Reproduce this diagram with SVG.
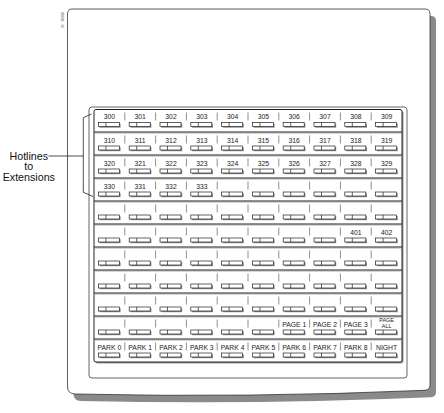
<svg xmlns="http://www.w3.org/2000/svg" xmlns:xlink="http://www.w3.org/1999/xlink" width="444" height="413" viewBox="0 0 444 413">
<style>
.lbl{font-family:"Liberation Sans",Arial,sans-serif;font-size:6.8px;text-anchor:middle;fill:#222}
.sm{font-family:"Liberation Sans",Arial,sans-serif;font-size:5.4px;text-anchor:middle;fill:#222}
.big{font-family:"Liberation Sans",Arial,sans-serif;font-size:10.7px;text-anchor:middle;fill:#111}
.sep{stroke:#444;stroke-width:0.6;fill:none}
.row{stroke:#222;stroke-width:1.1}
.rowsh{stroke:#aaa;stroke-width:0.8}
.conn{stroke:#222;stroke-width:0.8;fill:none}
</style>
<defs>
<g id="btn">
<rect x="1.2" y="1.2" width="21" height="4" fill="#8c8c8c"/>
<rect x="0" y="0" width="21" height="4" fill="#fff" stroke="#222" stroke-width="0.7"/>
<line x1="7.5" y1="0" x2="7.5" y2="4" stroke="#222" stroke-width="0.7"/>
</g>
<path id="dev" d="M 72 9 L 425 9 Q 430 9 430 14 L 430 385 Q 430 390 425 390.3 Q 250 398 75 394 Q 67.5 393.5 67.5 387 L 67.5 14 Q 67.5 9 72 9 Z"/>
</defs>
<g id="device">
<use xlink:href="#dev" href="#dev" transform="translate(6,7)" fill="#8a8a8a"/>
<use xlink:href="#dev" href="#dev" fill="#fff" stroke="#333" stroke-width="0.8"/>
<text transform="translate(61,12) rotate(90)" font-family="Liberation Sans, Arial, sans-serif" font-size="3.4" fill="#555">80008 - 96</text>
</g>
<g id="panel">
<rect x="89" y="107" width="318" height="271" rx="3" fill="#fff" stroke="#555" stroke-width="0.9"/>
<rect x="95.5" y="111" width="308" height="252.5" rx="2" fill="#999"/>
<rect x="94" y="109.5" width="308" height="252.5" rx="2" fill="#fff" stroke="#222" stroke-width="1"/>
<g id="rowlines">
<path class="rowsh" d="M95 133.1H402M95 156.1H402M95 179.1H402M95 202.1H402M95 225.1H402M95 248.1H402M95 271.1H402M95 294.1H402M95 317.1H402M95 340.1H402"/>
<path class="row" d="M94 132H402M94 155H402M94 178H402M94 201H402M94 224H402M94 247H402M94 270H402M94 293H402M94 316H402M94 339H402"/>
</g>
<g id="separators" class="sep">
<path d="M124.8 112.5v8M155.6 112.5v8M186.4 112.5v8M217.2 112.5v8M248 112.5v8M278.8 112.5v8M309.6 112.5v8M340.4 112.5v8M371.2 112.5v8"/>
<path d="M124.8 135.5v8M155.6 135.5v8M186.4 135.5v8M217.2 135.5v8M248 135.5v8M278.8 135.5v8M309.6 135.5v8M340.4 135.5v8M371.2 135.5v8"/>
<path d="M124.8 158.5v8M155.6 158.5v8M186.4 158.5v8M217.2 158.5v8M248 158.5v8M278.8 158.5v8M309.6 158.5v8M340.4 158.5v8M371.2 158.5v8"/>
<path d="M124.8 181.5v8M155.6 181.5v8M186.4 181.5v8M217.2 181.5v8M248 181.5v8M278.8 181.5v8M309.6 181.5v8M340.4 181.5v8M371.2 181.5v8"/>
<path d="M124.8 204.5v8M155.6 204.5v8M186.4 204.5v8M217.2 204.5v8M248 204.5v8M278.8 204.5v8M309.6 204.5v8M340.4 204.5v8M371.2 204.5v8"/>
<path d="M124.8 227.5v8M155.6 227.5v8M186.4 227.5v8M217.2 227.5v8M248 227.5v8M278.8 227.5v8M309.6 227.5v8M340.4 227.5v8M371.2 227.5v8"/>
<path d="M124.8 250.5v8M155.6 250.5v8M186.4 250.5v8M217.2 250.5v8M248 250.5v8M278.8 250.5v8M309.6 250.5v8M340.4 250.5v8M371.2 250.5v8"/>
<path d="M124.8 273.5v8M155.6 273.5v8M186.4 273.5v8M217.2 273.5v8M248 273.5v8M278.8 273.5v8M309.6 273.5v8M340.4 273.5v8M371.2 273.5v8"/>
<path d="M124.8 296.5v8M155.6 296.5v8M186.4 296.5v8M217.2 296.5v8M248 296.5v8M278.8 296.5v8M309.6 296.5v8M340.4 296.5v8M371.2 296.5v8"/>
<path d="M124.8 319.5v8M155.6 319.5v8M186.4 319.5v8M217.2 319.5v8M248 319.5v8M278.8 319.5v8M309.6 319.5v8M340.4 319.5v8M371.2 319.5v8"/>
<path d="M124.8 342.5v8M155.6 342.5v8M186.4 342.5v8M217.2 342.5v8M248 342.5v8M278.8 342.5v8M309.6 342.5v8M340.4 342.5v8M371.2 342.5v8"/>
</g>
</g>
<g id="keys">
<!-- row 0 -->
<g id="k300"><text class="lbl" x="109.4" y="119">300</text><use href="#btn" x="98.4" y="122.5"/></g>
<g id="k301"><text class="lbl" x="140.2" y="119">301</text><use href="#btn" x="129.2" y="122.5"/></g>
<g id="k302"><text class="lbl" x="171" y="119">302</text><use href="#btn" x="160" y="122.5"/></g>
<g id="k303"><text class="lbl" x="201.8" y="119">303</text><use href="#btn" x="190.8" y="122.5"/></g>
<g id="k304"><text class="lbl" x="232.6" y="119">304</text><use href="#btn" x="221.6" y="122.5"/></g>
<g id="k305"><text class="lbl" x="263.4" y="119">305</text><use href="#btn" x="252.4" y="122.5"/></g>
<g id="k306"><text class="lbl" x="294.2" y="119">306</text><use href="#btn" x="283.2" y="122.5"/></g>
<g id="k307"><text class="lbl" x="325" y="119">307</text><use href="#btn" x="314" y="122.5"/></g>
<g id="k308"><text class="lbl" x="355.8" y="119">308</text><use href="#btn" x="344.8" y="122.5"/></g>
<g id="k309"><text class="lbl" x="386.6" y="119">309</text><use href="#btn" x="375.6" y="122.5"/></g>
<!-- row 1 -->
<g id="k310"><text class="lbl" x="109.4" y="142.8">310</text><use href="#btn" x="98.4" y="146"/></g>
<g id="k311"><text class="lbl" x="140.2" y="142.8">311</text><use href="#btn" x="129.2" y="146"/></g>
<g id="k312"><text class="lbl" x="171" y="142.8">312</text><use href="#btn" x="160" y="146"/></g>
<g id="k313"><text class="lbl" x="201.8" y="142.8">313</text><use href="#btn" x="190.8" y="146"/></g>
<g id="k314"><text class="lbl" x="232.6" y="142.8">314</text><use href="#btn" x="221.6" y="146"/></g>
<g id="k315"><text class="lbl" x="263.4" y="142.8">315</text><use href="#btn" x="252.4" y="146"/></g>
<g id="k316"><text class="lbl" x="294.2" y="142.8">316</text><use href="#btn" x="283.2" y="146"/></g>
<g id="k317"><text class="lbl" x="325" y="142.8">317</text><use href="#btn" x="314" y="146"/></g>
<g id="k318"><text class="lbl" x="355.8" y="142.8">318</text><use href="#btn" x="344.8" y="146"/></g>
<g id="k319"><text class="lbl" x="386.6" y="142.8">319</text><use href="#btn" x="375.6" y="146"/></g>
<!-- row 2 -->
<g id="k320"><text class="lbl" x="109.4" y="165.8">320</text><use href="#btn" x="98.4" y="169"/></g>
<g id="k321"><text class="lbl" x="140.2" y="165.8">321</text><use href="#btn" x="129.2" y="169"/></g>
<g id="k322"><text class="lbl" x="171" y="165.8">322</text><use href="#btn" x="160" y="169"/></g>
<g id="k323"><text class="lbl" x="201.8" y="165.8">323</text><use href="#btn" x="190.8" y="169"/></g>
<g id="k324"><text class="lbl" x="232.6" y="165.8">324</text><use href="#btn" x="221.6" y="169"/></g>
<g id="k325"><text class="lbl" x="263.4" y="165.8">325</text><use href="#btn" x="252.4" y="169"/></g>
<g id="k326"><text class="lbl" x="294.2" y="165.8">326</text><use href="#btn" x="283.2" y="169"/></g>
<g id="k327"><text class="lbl" x="325" y="165.8">327</text><use href="#btn" x="314" y="169"/></g>
<g id="k328"><text class="lbl" x="355.8" y="165.8">328</text><use href="#btn" x="344.8" y="169"/></g>
<g id="k329"><text class="lbl" x="386.6" y="165.8">329</text><use href="#btn" x="375.6" y="169"/></g>
<!-- row 3 -->
<g id="k330"><text class="lbl" x="109.4" y="188.8">330</text><use href="#btn" x="98.4" y="192"/></g>
<g id="k331"><text class="lbl" x="140.2" y="188.8">331</text><use href="#btn" x="129.2" y="192"/></g>
<g id="k332"><text class="lbl" x="171" y="188.8">332</text><use href="#btn" x="160" y="192"/></g>
<g id="k333"><text class="lbl" x="201.8" y="188.8">333</text><use href="#btn" x="190.8" y="192"/></g>
<g id="k3-4"><use href="#btn" x="221.6" y="192"/></g>
<g id="k3-5"><use href="#btn" x="252.4" y="192"/></g>
<g id="k3-6"><use href="#btn" x="283.2" y="192"/></g>
<g id="k3-7"><use href="#btn" x="314" y="192"/></g>
<g id="k3-8"><use href="#btn" x="344.8" y="192"/></g>
<g id="k3-9"><use href="#btn" x="375.6" y="192"/></g>
<!-- row 4 -->
<g id="k4-0"><use href="#btn" x="98.4" y="215"/></g>
<g id="k4-1"><use href="#btn" x="129.2" y="215"/></g>
<g id="k4-2"><use href="#btn" x="160" y="215"/></g>
<g id="k4-3"><use href="#btn" x="190.8" y="215"/></g>
<g id="k4-4"><use href="#btn" x="221.6" y="215"/></g>
<g id="k4-5"><use href="#btn" x="252.4" y="215"/></g>
<g id="k4-6"><use href="#btn" x="283.2" y="215"/></g>
<g id="k4-7"><use href="#btn" x="314" y="215"/></g>
<g id="k4-8"><use href="#btn" x="344.8" y="215"/></g>
<g id="k4-9"><use href="#btn" x="375.6" y="215"/></g>
<!-- row 5 -->
<g id="k5-0"><use href="#btn" x="98.4" y="238"/></g>
<g id="k5-1"><use href="#btn" x="129.2" y="238"/></g>
<g id="k5-2"><use href="#btn" x="160" y="238"/></g>
<g id="k5-3"><use href="#btn" x="190.8" y="238"/></g>
<g id="k5-4"><use href="#btn" x="221.6" y="238"/></g>
<g id="k5-5"><use href="#btn" x="252.4" y="238"/></g>
<g id="k5-6"><use href="#btn" x="283.2" y="238"/></g>
<g id="k5-7"><use href="#btn" x="314" y="238"/></g>
<g id="k401"><text class="lbl" x="355.8" y="234.8">401</text><use href="#btn" x="344.8" y="238"/></g>
<g id="k402"><text class="lbl" x="386.6" y="234.8">402</text><use href="#btn" x="375.6" y="238"/></g>
<!-- row 6 -->
<g id="k6-0"><use href="#btn" x="98.4" y="261"/></g>
<g id="k6-1"><use href="#btn" x="129.2" y="261"/></g>
<g id="k6-2"><use href="#btn" x="160" y="261"/></g>
<g id="k6-3"><use href="#btn" x="190.8" y="261"/></g>
<g id="k6-4"><use href="#btn" x="221.6" y="261"/></g>
<g id="k6-5"><use href="#btn" x="252.4" y="261"/></g>
<g id="k6-6"><use href="#btn" x="283.2" y="261"/></g>
<g id="k6-7"><use href="#btn" x="314" y="261"/></g>
<g id="k6-8"><use href="#btn" x="344.8" y="261"/></g>
<g id="k6-9"><use href="#btn" x="375.6" y="261"/></g>
<!-- row 7 -->
<g id="k7-0"><use href="#btn" x="98.4" y="284"/></g>
<g id="k7-1"><use href="#btn" x="129.2" y="284"/></g>
<g id="k7-2"><use href="#btn" x="160" y="284"/></g>
<g id="k7-3"><use href="#btn" x="190.8" y="284"/></g>
<g id="k7-4"><use href="#btn" x="221.6" y="284"/></g>
<g id="k7-5"><use href="#btn" x="252.4" y="284"/></g>
<g id="k7-6"><use href="#btn" x="283.2" y="284"/></g>
<g id="k7-7"><use href="#btn" x="314" y="284"/></g>
<g id="k7-8"><use href="#btn" x="344.8" y="284"/></g>
<g id="k7-9"><use href="#btn" x="375.6" y="284"/></g>
<!-- row 8 -->
<g id="k8-0"><use href="#btn" x="98.4" y="307"/></g>
<g id="k8-1"><use href="#btn" x="129.2" y="307"/></g>
<g id="k8-2"><use href="#btn" x="160" y="307"/></g>
<g id="k8-3"><use href="#btn" x="190.8" y="307"/></g>
<g id="k8-4"><use href="#btn" x="221.6" y="307"/></g>
<g id="k8-5"><use href="#btn" x="252.4" y="307"/></g>
<g id="k8-6"><use href="#btn" x="283.2" y="307"/></g>
<g id="k8-7"><use href="#btn" x="314" y="307"/></g>
<g id="k8-8"><use href="#btn" x="344.8" y="307"/></g>
<g id="k8-9"><use href="#btn" x="375.6" y="307"/></g>
<!-- row 9 -->
<g id="k9-0"><use href="#btn" x="98.4" y="330"/></g>
<g id="k9-1"><use href="#btn" x="129.2" y="330"/></g>
<g id="k9-2"><use href="#btn" x="160" y="330"/></g>
<g id="k9-3"><use href="#btn" x="190.8" y="330"/></g>
<g id="k9-4"><use href="#btn" x="221.6" y="330"/></g>
<g id="k9-5"><use href="#btn" x="252.4" y="330"/></g>
<g id="kpage1"><text class="lbl" x="294.2" y="326.8">PAGE 1</text><use href="#btn" x="283.2" y="330"/></g>
<g id="kpage2"><text class="lbl" x="325" y="326.8">PAGE 2</text><use href="#btn" x="314" y="330"/></g>
<g id="kpage3"><text class="lbl" x="355.8" y="326.8">PAGE 3</text><use href="#btn" x="344.8" y="330"/></g>
<g id="kpageall"><text class="sm" x="386.6" y="321.6">PAGE</text><text class="sm" x="386.6" y="327.6">ALL</text><use href="#btn" x="375.6" y="330"/></g>
<!-- row 10 -->
<g id="kpark0"><text class="lbl" x="109.4" y="349.8">PARK 0</text><use href="#btn" x="98.4" y="353"/></g>
<g id="kpark1"><text class="lbl" x="140.2" y="349.8">PARK 1</text><use href="#btn" x="129.2" y="353"/></g>
<g id="kpark2"><text class="lbl" x="171" y="349.8">PARK 2</text><use href="#btn" x="160" y="353"/></g>
<g id="kpark3"><text class="lbl" x="201.8" y="349.8">PARK 3</text><use href="#btn" x="190.8" y="353"/></g>
<g id="kpark4"><text class="lbl" x="232.6" y="349.8">PARK 4</text><use href="#btn" x="221.6" y="353"/></g>
<g id="kpark5"><text class="lbl" x="263.4" y="349.8">PARK 5</text><use href="#btn" x="252.4" y="353"/></g>
<g id="kpark6"><text class="lbl" x="294.2" y="349.8">PARK 6</text><use href="#btn" x="283.2" y="353"/></g>
<g id="kpark7"><text class="lbl" x="325" y="349.8">PARK 7</text><use href="#btn" x="314" y="353"/></g>
<g id="kpark8"><text class="lbl" x="355.8" y="349.8">PARK 8</text><use href="#btn" x="344.8" y="353"/></g>
<g id="knight"><text class="lbl" x="386.6" y="349.8">NIGHT</text><use href="#btn" x="375.6" y="353"/></g>
</g>
<g id="hotlines-label">
<text class="big" x="28.8" y="159.5">Hotlines</text>
<text class="big" x="28.8" y="170">to</text>
<text class="big" x="28.8" y="180.5">Extensions</text>
</g>
<g id="connectors">
<path class="conn" d="M48.5 156H83.3"/>
<path class="conn" d="M91.5 114L83.3 117.7V192.3L93 196.5"/>
</g>
</svg>
